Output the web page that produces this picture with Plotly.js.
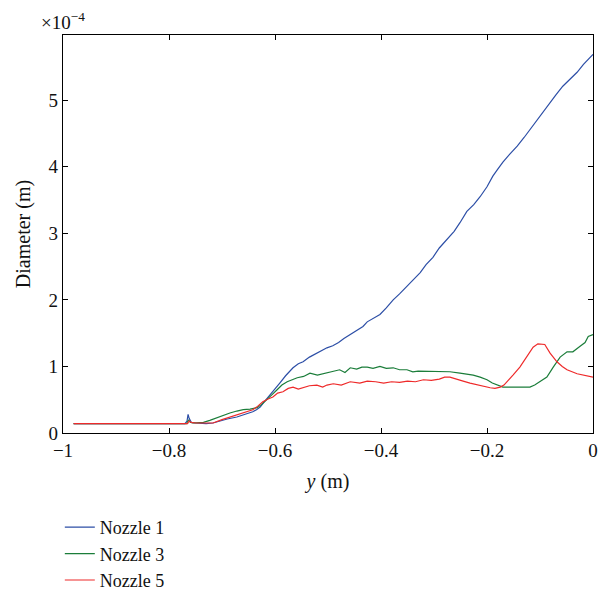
<!DOCTYPE html>
<html><head><meta charset="utf-8">
<script src="https://cdn.plot.ly/plotly-3.0.1.min.js"></script>
<style>body{margin:0;padding:0;background:#fff}#chart{width:599px;height:592px}</style>
</head><body><div id="chart"></div>
<script>
// Diameter values in units of 1e-4 m
const n1x = [-0.98,-0.77,-0.766,-0.764,-0.762,-0.758,-0.75,-0.74,-0.73,-0.717,-0.70,-0.69,-0.672,-0.66,-0.642,-0.635,-0.628,-0.62,-0.609,-0.60,-0.591,-0.58,-0.566,-0.556,-0.547,-0.535,-0.521,-0.51,-0.502,-0.491,-0.48,-0.47,-0.458,-0.446,-0.434,-0.426,-0.415,-0.402,-0.39,-0.377,-0.365,-0.351,-0.34,-0.326,-0.315,-0.302,-0.29,-0.275,-0.262,-0.251,-0.238,-0.225,-0.213,-0.20,-0.189,-0.18,-0.170,-0.157,-0.143,-0.13,-0.119,-0.106,-0.094,-0.081,-0.07,-0.057,-0.044,-0.030,-0.018,-0.006,0];
const n1y = [0.14,0.14,0.18,0.28,0.22,0.16,0.15,0.14,0.14,0.15,0.19,0.21,0.24,0.27,0.32,0.35,0.39,0.47,0.57,0.66,0.75,0.86,0.98,1.04,1.07,1.14,1.20,1.25,1.28,1.31,1.36,1.42,1.48,1.53,1.60,1.67,1.72,1.78,1.88,2.0,2.09,2.20,2.30,2.41,2.53,2.64,2.78,2.91,3.03,3.16,3.33,3.43,3.55,3.70,3.86,3.96,4.07,4.19,4.31,4.44,4.56,4.70,4.82,4.97,5.08,5.21,5.31,5.42,5.54,5.65,5.69];

const n3x = [-0.98,-0.767,-0.763,-0.76,-0.755,-0.745,-0.735,-0.723,-0.71,-0.698,-0.685,-0.672,-0.66,-0.647,-0.634,-0.625,-0.615,-0.605,-0.596,-0.587,-0.577,-0.568,-0.558,-0.546,-0.534,-0.52,-0.502,-0.491,-0.478,-0.468,-0.458,-0.446,-0.436,-0.426,-0.415,-0.402,-0.39,-0.377,-0.365,-0.351,-0.34,-0.33,-0.30,-0.27,-0.251,-0.238,-0.226,-0.213,-0.200,-0.19,-0.181,-0.170,-0.15,-0.13,-0.119,-0.11,-0.100,-0.087,-0.075,-0.062,-0.049,-0.038,-0.025,-0.015,-0.009,0];
const n3y = [0.14,0.14,0.20,0.16,0.15,0.15,0.16,0.19,0.23,0.27,0.30,0.33,0.35,0.36,0.38,0.43,0.50,0.58,0.65,0.72,0.77,0.80,0.83,0.85,0.90,0.87,0.90,0.92,0.95,0.91,0.98,0.96,0.99,0.99,0.97,1.0,0.97,0.98,0.95,0.95,0.92,0.93,0.93,0.92,0.90,0.89,0.87,0.84,0.80,0.75,0.72,0.69,0.69,0.69,0.69,0.72,0.77,0.84,0.99,1.14,1.22,1.22,1.30,1.36,1.45,1.48];

const n5x = [-0.98,-0.765,-0.762,-0.758,-0.75,-0.735,-0.717,-0.70,-0.685,-0.672,-0.656,-0.642,-0.633,-0.623,-0.613,-0.604,-0.595,-0.585,-0.575,-0.566,-0.556,-0.547,-0.535,-0.521,-0.51,-0.502,-0.49,-0.475,-0.458,-0.44,-0.426,-0.41,-0.395,-0.38,-0.365,-0.35,-0.335,-0.32,-0.305,-0.29,-0.28,-0.27,-0.26,-0.245,-0.232,-0.213,-0.194,-0.185,-0.175,-0.168,-0.162,-0.151,-0.138,-0.125,-0.113,-0.104,-0.097,-0.091,-0.081,-0.068,-0.058,-0.049,-0.03,-0.015,0];
const n5y = [0.14,0.14,0.18,0.16,0.15,0.15,0.15,0.20,0.24,0.27,0.31,0.35,0.40,0.47,0.51,0.54,0.60,0.62,0.67,0.69,0.66,0.68,0.71,0.72,0.69,0.72,0.74,0.72,0.77,0.75,0.78,0.77,0.75,0.77,0.76,0.78,0.77,0.80,0.79,0.81,0.84,0.84,0.82,0.78,0.75,0.71,0.68,0.67,0.69,0.72,0.77,0.87,0.99,1.14,1.29,1.34,1.33,1.33,1.20,1.07,1.00,0.95,0.89,0.87,0.84];

const seriesNames = ['Nozzle 1','Nozzle 3','Nozzle 5'];
const xTicks = [-1,-0.8,-0.6,-0.4,-0.2,0];
const yTicks = [0,1,2,3,4,5];

const FONT = 'Liberation Serif, Times New Roman, serif';
const traces = [
  {x:n1x, y:n1y, name:seriesNames[0], type:'scatter', mode:'lines', line:{color:'#2c4ea6', width:1.2}},
  {x:n3x, y:n3y, name:seriesNames[1], type:'scatter', mode:'lines', line:{color:'#1b7d3a', width:1.2}},
  {x:n5x, y:n5y, name:seriesNames[2], type:'scatter', mode:'lines', line:{color:'#ee2a2a', width:1.2}}
];
const layout = {
  width:599, height:592,
  margin:{l:63, r:6, t:35, b:159, autoexpand:false},
  paper_bgcolor:'#fff', plot_bgcolor:'#fff',
  font:{family:FONT, size:19, color:'#111'},
  showlegend:true,
  legend:{x:-0.006, y:-0.191, xanchor:'left', yanchor:'top',
          font:{family:FONT, size:18}, bgcolor:'rgba(0,0,0,0)'},
  xaxis:{range:[-1,0], tickvals:xTicks, ticks:'inside', ticklen:5, tickcolor:'#000', mirror:'allticks',
         showline:true, linecolor:'#000', linewidth:1.2, showgrid:false, zeroline:false, automargin:true,
         tickfont:{family:FONT, size:19},
         title:{text:'<i>y</i> (m)', font:{family:FONT, size:20}, standoff:14}},
  yaxis:{range:[0,5.98], tickvals:yTicks, ticks:'inside', ticklen:5, tickcolor:'#000', mirror:'allticks',
         showline:true, linecolor:'#000', linewidth:1.2, showgrid:false, zeroline:false, automargin:true,
         tickfont:{family:FONT, size:19},
         title:{text:'Diameter (m)', font:{family:FONT, size:20}, standoff:12}},
  annotations:[{xref:'paper', yref:'paper', x:-0.045, y:1.0, xanchor:'left', yanchor:'bottom', yshift:0,
    text:'×10<sup>−4</sup>', showarrow:false, font:{family:FONT, size:19}}]
};
Plotly.newPlot('chart', traces, layout, {displayModeBar:false, staticPlot:true});
</script></body></html>
